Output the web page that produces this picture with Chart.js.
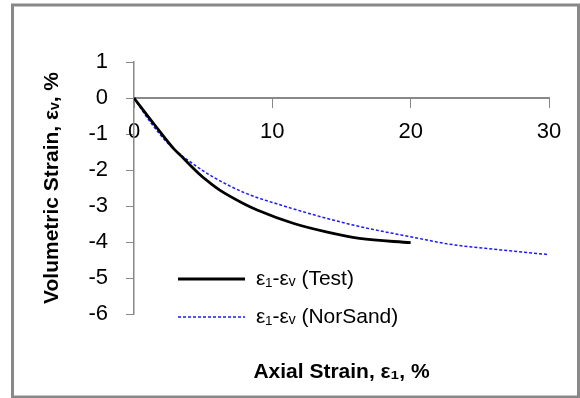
<!DOCTYPE html>
<html>
<head>
<meta charset="utf-8">
<script src="https://cdn.jsdelivr.net/npm/chart.js@4.4.1/dist/chart.umd.min.js"></script>
<style>
  body { margin: 0; background: #fff; }
  #wrap { position: relative; width: 580px; height: 398px; }
</style>
</head>
<body>
<div id="wrap"><canvas id="grafico" width="580" height="398"></canvas></div>
<script>
// axial strain (%) / volumetric strain (%)
const testX = [0, 1.5, 2.9, 3.3, 4.8, 5.7, 6.2, 7.9, 8.9, 11.5, 13.9, 16.3, 20];
const testY = [0, -0.75, -1.42, -1.57, -2.14, -2.42, -2.56, -2.93, -3.11, -3.48, -3.72, -3.9, -4.02];
const norsandX = [0, 0.6, 1.2, 2.6, 4.05, 5.7, 8.1, 10.5, 13.9, 16.3, 18.7, 20.2, 22.8, 26.5, 30];
const norsandY = [0, -0.35, -0.68, -1.32, -1.77, -2.19, -2.65, -2.96, -3.34, -3.57, -3.76, -3.87, -4.06, -4.22, -4.35];
const xTicks = [0, 10, 20, 30];
const yTicks = [1, 0, -1, -2, -3, -4, -5, -6];
const seriesNames = ['ε₁-εᵥ (Test)', 'ε₁-εᵥ (NorSand)'];

const pontos = (xs, ys) => xs.map((x, i) => ({x: x, y: ys[i]}));

// moldura cinza + legenda desenhada dentro da area do grafico
const extras = {
    id: 'extras',
    afterDraw: chart => {
        const c = chart.ctx;
        const area = chart.chartArea;
        c.save();
        c.strokeStyle = '#888';
        c.lineWidth = 3;
        c.strokeRect(12.5, 5, 566, 392);

        chart.data.datasets.forEach((ds, i) => {
            const y = area.bottom - 35 + i * 38;
            const x0 = area.left + 44;
            c.beginPath();
            c.strokeStyle = ds.borderColor;
            c.lineWidth = ds.borderWidth;
            c.setLineDash(ds.borderDash || []);
            c.moveTo(x0, y);
            c.lineTo(x0 + 67, y);
            c.stroke();
            c.setLineDash([]);
            c.fillStyle = '#000';
            c.font = '21px "Liberation Sans"';
            c.textBaseline = 'middle';
            c.textAlign = 'left';
            c.fillText(ds.label, x0 + 78, y);
        });
        c.restore();
    }
};

const ctx = document.getElementById('grafico');
const grafico = new Chart(ctx, {
    type: 'scatter',
    data: {
        datasets: [{
            label: seriesNames[0],
            data: pontos(testX, testY),
            showLine: true,
            borderColor: '#000',
            backgroundColor: '#000',
            borderWidth: 2.8,
            pointRadius: 0,
            cubicInterpolationMode: 'monotone'
        }, {
            label: seriesNames[1],
            data: pontos(norsandX, norsandY),
            showLine: true,
            borderColor: '#1a1aff',
            backgroundColor: '#1a1aff',
            borderWidth: 1.5,
            borderDash: [3, 2],
            pointRadius: 0,
            cubicInterpolationMode: 'monotone'
        }]
    },
    options: {
        responsive: false,
        animation: false,
        devicePixelRatio: 1,
        layout: {
            padding: {left: 28, top: 62, right: 31, bottom: 0}
        },
        plugins: {
            legend: {display: false},
            tooltip: {enabled: false}
        },
        scales: {
            x: {
                type: 'linear',
                position: {y: 0},
                min: 0,
                max: 30,
                afterBuildTicks: s => { s.ticks = xTicks.map(v => ({value: v})); },
                grid: {drawOnChartArea: false, drawTicks: true, tickLength: 9, color: '#888'},
                border: {color: '#888', width: 2},
                ticks: {
                    padding: 12,
                    color: '#000',
                    maxRotation: 0,
                    font: {family: 'Liberation Sans', size: 22}
                }
            },
            x2: {
                type: 'linear',
                position: 'bottom',
                min: 0,
                max: 30,
                afterFit: s => { s.height = 84; },
                grid: {display: false, drawTicks: false},
                border: {display: false},
                ticks: {display: false},
                title: {
                    display: true,
                    text: 'Axial Strain, ε₁, %',
                    color: '#000',
                    padding: {top: 0, bottom: 13},
                    font: {family: 'Liberation Sans', size: 21, weight: 'bold'}
                }
            },
            y: {
                type: 'linear',
                position: 'left',
                min: -6,
                max: 1,
                afterBuildTicks: s => { s.ticks = yTicks.map(v => ({value: v})); },
                afterFit: s => { s.width = 106; },
                grid: {drawOnChartArea: false, drawTicks: true, tickLength: 8, color: '#888'},
                border: {color: '#888', width: 1.5},
                ticks: {
                    padding: 18,
                    color: '#000',
                    font: {family: 'Liberation Sans', size: 22}
                },
                title: {
                    display: true,
                    text: 'Volumetric Strain, εᵥ, %',
                    color: '#000',
                    padding: {top: 12, bottom: 0},
                    font: {family: 'Liberation Sans', size: 21, weight: 'bold'}
                }
            }
        }
    },
    plugins: [extras]
}); // fim grafico
</script>
</body>
</html>
